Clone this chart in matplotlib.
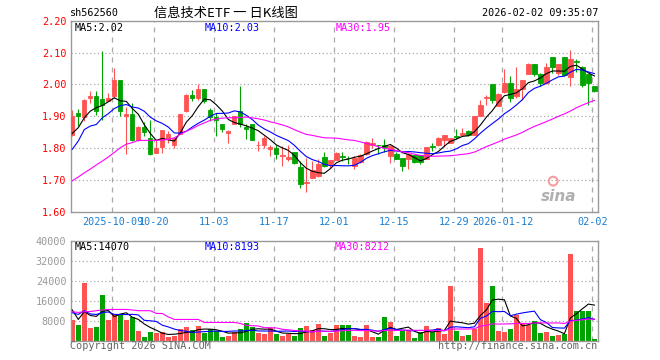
import numpy as np
import pandas as pd
import matplotlib
matplotlib.use('Agg')
import matplotlib.pyplot as plt

# === Chart text ===
code = 'sh562560'
title = '信息技术ETF 一 日K线图'
stamp = '2026-02-02 09:35:07'
ma_labels = ['MA5:2.02', 'MA10:2.03', 'MA30:1.95']
vol_ma_labels = ['MA5:14070', 'MA10:8193', 'MA30:8212']

# === Trading days (exchange holidays removed) ===
holidays = ['2025-10-01', '2025-10-02', '2025-10-03', '2025-10-06', '2025-10-07',
            '2025-10-08', '2026-01-01', '2026-01-02']
dates = pd.bdate_range('2025-09-22', '2026-02-02', freq='C', holidays=holidays)

tick_dates = ['2025-10-09', '2025-10-20', '2025-11-03', '2025-11-17', '2025-12-01',
              '2025-12-15', '2025-12-29', '2026-01-12', '2026-02-02']
tick_labels = ['2025-10-09', '10-20', '11-03', '11-17', '12-01',
               '12-15', '12-29', '2026-01-12', '02-02']

# === Daily OHLC ===
opens = [1.840, 1.910, 1.898, 1.956, 1.964, 1.955, 1.949, 1.964, 2.015, 1.902,
         1.908, 1.824, 1.866, 1.832, 1.783, 1.802, 1.827, 1.811, 1.843, 1.915,
         1.968, 1.957, 1.985, 1.918, 1.897, 1.877, 1.848, 1.877, 1.915, 1.866,
         1.874, 1.809, 1.811, 1.796, 1.799, 1.776, 1.767, 1.788, 1.741, 1.689,
         1.706, 1.712, 1.771, 1.751, 1.762, 1.774, 1.770, 1.742, 1.756, 1.780,
         1.808, 1.810, 1.809, 1.774, 1.782, 1.770, 1.765, 1.779, 1.778, 1.767,
         1.805, 1.810, 1.824, 1.817, 1.838, 1.840, 1.855, 1.840, 1.902, 1.958,
         2.002, 1.933, 1.975, 2.005, 1.962, 1.985, 2.034, 2.065, 2.032, 2.004,
         2.085, 2.035, 2.085, 2.023, 2.073, 2.053, 2.032, 1.996]
highs = [1.921, 1.924, 1.954, 1.980, 1.980, 2.105, 1.973, 2.051, 2.015, 1.929,
         1.940, 1.869, 1.882, 1.889, 1.827, 1.858, 1.853, 1.832, 1.908, 1.970,
         1.983, 2.001, 1.985, 1.926, 1.910, 1.877, 1.858, 1.902, 1.994, 1.874,
         1.874, 1.822, 1.837, 1.811, 1.811, 1.806, 1.811, 1.788, 1.759, 1.768,
         1.759, 1.765, 1.786, 1.761, 1.789, 1.788, 1.774, 1.775, 1.780, 1.821,
         1.832, 1.811, 1.827, 1.810, 1.786, 1.770, 1.783, 1.779, 1.779, 1.802,
         1.815, 1.835, 1.842, 1.832, 1.861, 1.863, 1.858, 1.902, 1.950, 1.968,
         2.002, 1.973, 2.049, 2.025, 2.056, 2.015, 2.067, 2.065, 2.035, 2.067,
         2.085, 2.065, 2.085, 2.108, 2.079, 2.059, 2.032, 1.996]
lows = [1.837, 1.869, 1.884, 1.942, 1.905, 1.889, 1.947, 1.957, 1.900, 1.781,
        1.822, 1.822, 1.837, 1.778, 1.783, 1.785, 1.817, 1.799, 1.843, 1.912,
        1.947, 1.952, 1.942, 1.884, 1.837, 1.850, 1.817, 1.876, 1.867, 1.827,
        1.824, 1.791, 1.801, 1.775, 1.765, 1.744, 1.759, 1.749, 1.676, 1.662,
        1.705, 1.710, 1.740, 1.738, 1.761, 1.759, 1.751, 1.735, 1.754, 1.778,
        1.801, 1.780, 1.789, 1.754, 1.764, 1.728, 1.735, 1.754, 1.751, 1.765,
        1.791, 1.806, 1.804, 1.815, 1.827, 1.837, 1.837, 1.840, 1.902, 1.936,
        1.942, 1.931, 1.973, 1.944, 1.957, 1.952, 2.032, 2.027, 1.994, 2.002,
        2.037, 2.030, 2.025, 1.994, 2.038, 1.991, 1.936, 1.977]
closes = [1.902, 1.900, 1.952, 1.964, 1.916, 1.936, 1.958, 2.015, 1.916, 1.908,
          1.824, 1.867, 1.850, 1.780, 1.799, 1.856, 1.843, 1.832, 1.908, 1.968,
          1.958, 1.985, 1.949, 1.898, 1.889, 1.860, 1.853, 1.900, 1.874, 1.861,
          1.825, 1.811, 1.830, 1.803, 1.780, 1.778, 1.772, 1.752, 1.688, 1.692,
          1.731, 1.750, 1.742, 1.761, 1.784, 1.772, 1.768, 1.770, 1.778, 1.820,
          1.817, 1.808, 1.803, 1.807, 1.765, 1.744, 1.780, 1.755, 1.755, 1.802,
          1.803, 1.830, 1.840, 1.830, 1.836, 1.847, 1.840, 1.902, 1.936, 1.960,
          1.950, 1.970, 2.005, 1.957, 1.985, 2.015, 2.065, 2.032, 2.004, 2.053,
          2.056, 2.065, 2.028, 2.080, 2.071, 1.997, 2.004, 1.980]
volumes = [8300, 6300, 23200, 5200, 5600, 18300, 8300, 10700, 10300, 8300,
           9300, 4000, 1500, 3300, 2900, 3300, 1500, 2000, 4700, 5300,
           4300, 5900, 3100, 4500, 4000, 1500, 2000, 3600, 4700, 6900,
           5600, 3100, 2700, 4900, 2700, 2000, 2500, 2000, 5100, 5900,
           4300, 6700, 2000, 3200, 6300, 6300, 6300, 2000, 1600, 6300,
           1600, 1600, 9600, 7600, 2000, 4000, 4000, 1200, 3300, 6000,
           3300, 5200, 2800, 21900, 4000, 2000, 2400, 4700, 37200, 15200,
           21900, 4000, 3600, 4800, 10300, 6900, 6300, 8000, 3200, 3600,
           2000, 2400, 2800, 34800, 11800, 12000, 11800, 800]

# moving-average values shown before each window fills
ma5_head = [1.846, 1.864, 1.895, 1.916]
ma10_head = [1.796, 1.822, 1.858, 1.869, 1.874, 1.895, 1.908, 1.924, 1.933]
ma30_head = [1.697, 1.709, 1.722, 1.734, 1.747, 1.759, 1.772, 1.786, 1.801, 1.812,
             1.817, 1.824, 1.824, 1.824, 1.824, 1.825, 1.827, 1.832, 1.843, 1.853,
             1.861, 1.871, 1.879, 1.887, 1.891, 1.894, 1.895, 1.895, 1.896]
vol_ma5_head = [12300, 8500, 11600, 10100]
vol_ma10_head = [11200, 10500, 12000, 10700, 10500, 11200, 11500, 10500, 10500]
vol_ma30_head = [11600, 11300, 11600, 11700, 12000, 12300, 12500, 12500, 12500, 12500,
                 12300, 12000, 12000, 12000, 10900, 10900, 9500, 8500, 8500, 8500,
                 8500, 8500, 7300, 7300, 7300, 7300, 7300, 7300, 6900]

UP = '#ff5252'
DOWN = '#00a300'
FRAME = '#999999'
GRID = '#aaaaaa'
MONO = 'DejaVu Sans Mono'


def moving_average(values, n, head):
    ma = pd.Series(values, dtype=float).rolling(n).mean().to_numpy()
    ma[:len(head)] = head
    return ma


x = np.arange(len(dates))
o = np.array(opens)
h = np.array(highs)
l = np.array(lows)
c = np.array(closes)
v = np.array(volumes)
up = c >= o
colors = np.where(up, UP, DOWN)

ma5 = moving_average(closes, 5, ma5_head)
ma10 = moving_average(closes, 10, ma10_head)
ma30 = moving_average(closes, 30, ma30_head)
vma5 = moving_average(volumes, 5, vol_ma5_head)
vma10 = moving_average(volumes, 10, vol_ma10_head)
vma30 = moving_average(volumes, 30, vol_ma30_head)

tick_x = [dates.get_loc(pd.Timestamp(d)) for d in tick_dates]

W, H = 660, 360
fig = plt.figure(figsize=(6.6, 3.6), dpi=100)
fig.patch.set_facecolor('white')


def px_axes(left, top, right, bottom):
    return fig.add_axes([left / W, 1 - bottom / H, (right - left) / W, (bottom - top) / H])


ax = px_axes(70.5, 20.7, 598, 211.7)
axv = px_axes(70.5, 240.7, 598, 340.7)

for a in (ax, axv):
    a.set_xlim(-0.3, len(x) - 0.4)
    for s in a.spines.values():
        s.set_color(FRAME)
        s.set_linewidth(1.0)
    for t in tick_x:
        a.axvline(t - 0.33, color=GRID, lw=0.9, ls=(0, (4, 4)), zorder=0)
    a.tick_params(length=0)

# === Price panel ===
ax.vlines(x, l, h, colors=colors, lw=0.8, zorder=2)
ax.bar(x, np.abs(c - o), bottom=np.minimum(o, c), width=0.72, color=colors,
       edgecolor=colors, linewidth=0.6, zorder=3)
ax.plot(x, ma5, color='black', lw=0.8, zorder=4)
ax.plot(x, ma10, color='#0000ff', lw=0.8, zorder=4)
ax.plot(x, ma30, color='#ff00ff', lw=0.8, zorder=4)
ax.set_ylim(1.60, 2.20)
price_ticks = [1.6, 1.7, 1.8, 1.9, 2.0, 2.1, 2.2]
for y in price_ticks[1:-1]:
    ax.axhline(y, color=GRID, lw=0.9, ls=(0, (1, 2)), zorder=0)
ax.set_yticks(price_ticks)
ax.set_yticklabels([f'{y:.2f}' for y in price_ticks], family=MONO, fontsize=7.3, color='#ff0000')
ax.set_xticks([t - 0.33 for t in tick_x])
ax.set_xticklabels(tick_labels, family=MONO, fontsize=7.3, color='#1a7fd4')
ax.tick_params(axis='x', pad=4)
ax.tick_params(axis='y', pad=3)

ax.text(0.925, 0.08, 'sina', transform=ax.transAxes, fontsize=11, fontweight='bold',
        style='italic', color='#b0b0b0', ha='center', va='center', zorder=1)
ax.scatter([0.915], [0.16], transform=ax.transAxes, s=40, facecolor='none',
           edgecolor='#f4a0a0', linewidth=1.5, zorder=1)

# === Volume panel ===
axv.bar(x, v, width=0.8, color=colors, zorder=2)
axv.plot(x, vma5, color='black', lw=0.8, zorder=3)
axv.plot(x, vma10, color='#0000ff', lw=0.8, zorder=3)
axv.plot(x, vma30, color='#ff00ff', lw=0.8, zorder=3)
axv.set_ylim(0, 40000)
vol_ticks = [8000, 16000, 24000, 32000, 40000]
for y in vol_ticks[:-1]:
    axv.axhline(y, color=GRID, lw=0.9, ls=(0, (1, 2)), zorder=0)
axv.set_yticks(vol_ticks)
axv.set_yticklabels([str(t) for t in vol_ticks], family=MONO, fontsize=7.3, color='#999999')
axv.set_xticks([])
axv.tick_params(axis='y', pad=3)

# === Texts ===
def ftext(px, py, s, **kw):
    kw.setdefault('family', MONO)
    kw.setdefault('fontsize', 7.3)
    kw.setdefault('va', 'center')
    fig.text(px / W, 1 - py / H, s, **kw)


ftext(70, 13, code, color='black')
ftext(226, 13, title, ha='center', family=['Noto Sans CJK SC', 'DejaVu Sans'], fontsize=9.5)
ftext(598, 13, stamp, ha='right', color='black')

for px, s, col in zip([75, 205, 336], ma_labels, ['black', '#0000ff', '#ff00ff']):
    ftext(px, 28, s, color=col)
for px, s, col in zip([75, 205, 335], vol_ma_labels, ['black', '#0000ff', '#ff00ff']):
    ftext(px, 247, s, color=col)

ftext(70, 346, 'Copyright 2026 SINA.COM', color='#666666')
ftext(597, 346, 'http://finance.sina.com.cn', ha='right', color='#666666')

fig.savefig('out.png', dpi=100)
